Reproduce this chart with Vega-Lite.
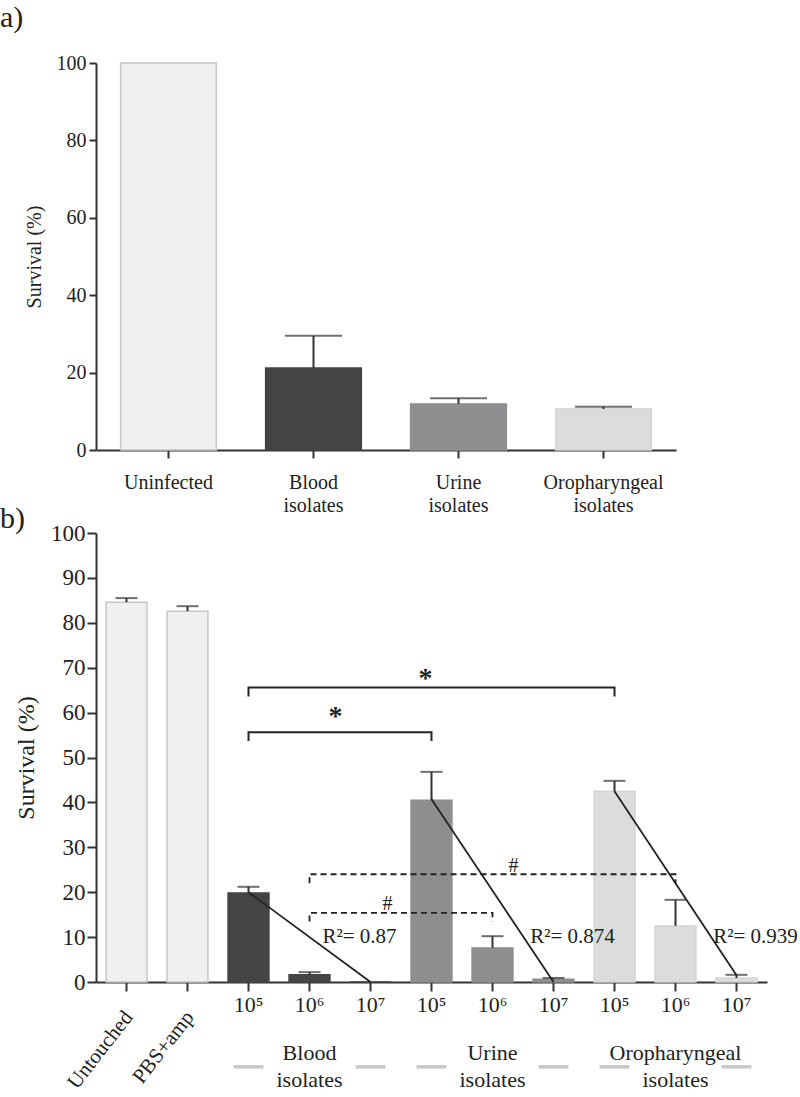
{
  "$schema": "https://vega.github.io/schema/vega-lite/v6.json",
  "background": "white",
  "padding": {"left": 0, "top": 3, "right": 0, "bottom": 0},
  "config": {
    "font": "Liberation Serif",
    "view": {"stroke": null},
    "axis": {"domainColor": "#333333", "domainWidth": 2, "tickColor": "#333333", "tickWidth": 2, "labelColor": "#222222", "titleColor": "#222222", "titleFontWeight": "normal", "grid": false, "labelFont": "Liberation Serif", "titleFont": "Liberation Serif"},
    "title": {"font": "Liberation Serif", "fontWeight": "normal", "color": "#222222"}
  },
  "bounds": "flush",
  "spacing": 83,
  "vconcat": [
    {
      "width": 580,
      "height": 387,
      "title": {"text": "a)", "anchor": "start", "frame": "group", "fontSize": 30, "dx": -96, "offset": 20},
      "data": {"values": [
        {"group": "Uninfected", "value": 100, "err": null},
        {"group": "Blood isolates", "value": 21.2, "err": 29.5},
        {"group": "Urine isolates", "value": 11.9, "err": 13.4},
        {"group": "Oropharyngeal isolates", "value": 10.6, "err": 11.2}
      ]},
      "encoding": {
        "x": {"field": "group", "type": "nominal", "sort": null,
          "scale": {"paddingInner": 0.34, "paddingOuter": 0.17},
          "axis": {"title": null, "labelAngle": 0, "labelFontSize": 20, "labelExpr": "split(datum.value, ' ')", "labelLineHeight": 23, "labelPadding": 14, "tickSize": 8}}
      },
      "layer": [
        {
          "mark": {"type": "bar", "strokeWidth": 1.5},
          "encoding": {
            "y": {"field": "value", "type": "quantitative", "scale": {"domain": [0, 100]},
              "axis": {"values": [0, 20, 40, 60, 80, 100], "title": "Survival (%)", "titleFontSize": 20, "labelFontSize": 20, "tickSize": 7, "labelPadding": 3, "titlePadding": 12}},
            "fill": {"field": "group", "type": "nominal", "scale": {"domain": ["Uninfected", "Blood isolates", "Urine isolates", "Oropharyngeal isolates"], "range": ["#f0f0f0", "#444446", "#8e8e90", "#dcdcdc"]}, "legend": null},
            "stroke": {"field": "group", "type": "nominal", "scale": {"domain": ["Uninfected", "Blood isolates", "Urine isolates", "Oropharyngeal isolates"], "range": ["#c6c6c6", "#444446", "#8e8e90", "#d4d4d4"]}, "legend": null}
          }
        },
        {
          "transform": [{"filter": "datum.err != null"}],
          "mark": {"type": "rule", "color": "#333333", "strokeWidth": 2},
          "encoding": {"y": {"field": "value", "type": "quantitative", "scale": {"domain": [0, 100]}}, "y2": {"field": "err"}}
        },
        {
          "transform": [{"filter": "datum.err != null"}],
          "mark": {"type": "tick", "color": "#333333", "thickness": 2, "size": 57},
          "encoding": {"y": {"field": "err", "type": "quantitative", "scale": {"domain": [0, 100]}}}
        }
      ]
    },
    {
      "width": 671,
      "height": 449,
      "title": {"text": "b)", "anchor": "start", "frame": "group", "fontSize": 30, "dx": -96, "offset": -12},
      "layer": [
        {
          "data": {"values": [
            {"cat": "Untouched", "kind": "ctrl", "value": 84.6, "err": 85.5},
            {"cat": "PBS+amp", "kind": "ctrl", "value": 82.6, "err": 83.7},
            {"cat": "Blood|10⁵", "kind": "Blood", "value": 19.8, "err": 21.2},
            {"cat": "Blood|10⁶", "kind": "Blood", "value": 1.6, "err": 2.2},
            {"cat": "Blood|10⁷", "kind": "Blood", "value": 0, "err": null},
            {"cat": "Urine|10⁵", "kind": "Urine", "value": 40.5, "err": 46.8},
            {"cat": "Urine|10⁶", "kind": "Urine", "value": 7.6, "err": 10.2},
            {"cat": "Urine|10⁷", "kind": "Urine", "value": 0.6, "err": 0.9},
            {"cat": "Oro|10⁵", "kind": "Oro", "value": 42.5, "err": 44.8},
            {"cat": "Oro|10⁶", "kind": "Oro", "value": 12.5, "err": 18.3},
            {"cat": "Oro|10⁷", "kind": "Oro", "value": 0.9, "err": 1.6}
          ]},
          "layer": [
            {
              "mark": {"type": "bar", "strokeWidth": 1.5},
              "encoding": {
                "x": {"field": "cat", "type": "nominal",
                  "scale": {"domain": ["Untouched", "PBS+amp", "Blood|10⁵", "Blood|10⁶", "Blood|10⁷", "Urine|10⁵", "Urine|10⁶", "Urine|10⁷", "Oro|10⁵", "Oro|10⁶", "Oro|10⁷"], "paddingInner": 0.33, "paddingOuter": 0.165},
                  "axis": {"title": null, "labelAngle": 0, "labelFontSize": 22, "labelExpr": "indexof(datum.value, '|') > 0 ? split(datum.value, '|')[1] : ''", "labelPadding": 3, "tickSize": 9}},
                "y": {"field": "value", "type": "quantitative", "scale": {"domain": [0, 100]},
                  "axis": {"values": [0, 10, 20, 30, 40, 50, 60, 70, 80, 90, 100], "title": "Survival (%)", "titleFontSize": 24, "labelFontSize": 23, "tickSize": 9, "labelPadding": 2, "titlePadding": 12}},
                "fill": {"field": "kind", "type": "nominal", "scale": {"domain": ["ctrl", "Blood", "Urine", "Oro"], "range": ["#f0f0f0", "#444446", "#8c8c8e", "#d9d9d9"]}, "legend": null},
                "stroke": {"field": "kind", "type": "nominal", "scale": {"domain": ["ctrl", "Blood", "Urine", "Oro"], "range": ["#c0c0c0", "#444446", "#8c8c8e", "#d9d9d9"]}, "legend": null}
              }
            },
            {
              "transform": [{"filter": "datum.err != null"}],
              "mark": {"type": "rule", "color": "#333333", "strokeWidth": 2},
              "encoding": {
                "x": {"field": "cat", "type": "nominal"},
                "y": {"field": "value", "type": "quantitative", "scale": {"domain": [0, 100]}},
                "y2": {"field": "err"}
              }
            },
            {
              "transform": [{"filter": "datum.err != null"}],
              "mark": {"type": "tick", "color": "#333333", "thickness": 2, "size": 22},
              "encoding": {
                "x": {"field": "cat", "type": "nominal"},
                "y": {"field": "err", "type": "quantitative", "scale": {"domain": [0, 100]}}
              }
            }
          ]
        },
        {
          "data": {"values": [
            {"cat": "Blood|10⁵", "y": 20.0, "g": "B"},
            {"cat": "Blood|10⁷", "y": 0, "g": "B"},
            {"cat": "Urine|10⁵", "y": 40.7, "g": "U"},
            {"cat": "Urine|10⁷", "y": 0, "g": "U"},
            {"cat": "Oro|10⁵", "y": 42.5, "g": "O"},
            {"cat": "Oro|10⁷", "y": 1.5, "g": "O"}
          ]},
          "mark": {"type": "line", "color": "#222222", "strokeWidth": 1.8},
          "encoding": {
            "x": {"field": "cat", "type": "nominal"},
            "y": {"field": "y", "type": "quantitative", "scale": {"domain": [0, 100]}},
            "detail": {"field": "g"}
          }
        },
        {
          "data": {"values": [
            {"b": "s1", "o": 1, "cat": "Blood|10⁵", "y": 63.6},
            {"b": "s1", "o": 2, "cat": "Blood|10⁵", "y": 65.6},
            {"b": "s1", "o": 3, "cat": "Oro|10⁵", "y": 65.6},
            {"b": "s1", "o": 4, "cat": "Oro|10⁵", "y": 63.6},
            {"b": "s2", "o": 1, "cat": "Blood|10⁵", "y": 53.7},
            {"b": "s2", "o": 2, "cat": "Blood|10⁵", "y": 55.6},
            {"b": "s2", "o": 3, "cat": "Urine|10⁵", "y": 55.6},
            {"b": "s2", "o": 4, "cat": "Urine|10⁵", "y": 53.7}
          ]},
          "mark": {"type": "line", "color": "#222222", "strokeWidth": 2},
          "encoding": {
            "x": {"field": "cat", "type": "nominal"},
            "y": {"field": "y", "type": "quantitative", "scale": {"domain": [0, 100]}},
            "detail": {"field": "b"},
            "order": {"field": "o"}
          }
        },
        {
          "data": {"values": [
            {"b": "d1", "o": 1, "cat": "Blood|10⁶", "y": 22.0},
            {"b": "d1", "o": 2, "cat": "Blood|10⁶", "y": 24.0},
            {"b": "d1", "o": 3, "cat": "Oro|10⁶", "y": 24.0},
            {"b": "d1", "o": 4, "cat": "Oro|10⁶", "y": 22.0},
            {"b": "d2", "o": 1, "cat": "Blood|10⁶", "y": 13.5},
            {"b": "d2", "o": 2, "cat": "Blood|10⁶", "y": 15.4},
            {"b": "d2", "o": 3, "cat": "Urine|10⁶", "y": 15.4},
            {"b": "d2", "o": 4, "cat": "Urine|10⁶", "y": 13.5}
          ]},
          "mark": {"type": "line", "color": "#222222", "strokeWidth": 1.8, "strokeDash": [6, 4]},
          "encoding": {
            "x": {"field": "cat", "type": "nominal"},
            "y": {"field": "y", "type": "quantitative", "scale": {"domain": [0, 100]}},
            "detail": {"field": "b"},
            "order": {"field": "o"}
          }
        },
        {
          "data": {"values": [{"cat": "Urine|10⁵", "y": 67.5, "label": "*"}]},
          "mark": {"type": "text", "fontSize": 28, "fontWeight": "bold", "color": "#222222", "dx": -6, "baseline": "middle"},
          "encoding": {"x": {"field": "cat", "type": "nominal"}, "y": {"field": "y", "type": "quantitative", "scale": {"domain": [0, 100]}}, "text": {"field": "label"}}
        },
        {
          "data": {"values": [{"cat": "Blood|10⁶", "y": 59.0, "label": "*"}]},
          "mark": {"type": "text", "fontSize": 28, "fontWeight": "bold", "color": "#222222", "dx": 26, "baseline": "middle"},
          "encoding": {"x": {"field": "cat", "type": "nominal"}, "y": {"field": "y", "type": "quantitative", "scale": {"domain": [0, 100]}}, "text": {"field": "label"}}
        },
        {
          "data": {"values": [{"cat": "Urine|10⁶", "y": 25.9, "label": "#"}]},
          "mark": {"type": "text", "fontSize": 20, "color": "#222222", "dx": 21, "baseline": "middle"},
          "encoding": {"x": {"field": "cat", "type": "nominal"}, "y": {"field": "y", "type": "quantitative", "scale": {"domain": [0, 100]}}, "text": {"field": "label"}}
        },
        {
          "data": {"values": [{"cat": "Blood|10⁷", "y": 17.3, "label": "#"}]},
          "mark": {"type": "text", "fontSize": 20, "color": "#222222", "dx": 17, "baseline": "middle"},
          "encoding": {"x": {"field": "cat", "type": "nominal"}, "y": {"field": "y", "type": "quantitative", "scale": {"domain": [0, 100]}}, "text": {"field": "label"}}
        },
        {
          "data": {"values": [{"cat": "Blood|10⁷", "y": 10.0, "label": "R²= 0.87"}]},
          "mark": {"type": "text", "fontSize": 21, "color": "#222222", "dx": -11, "baseline": "middle"},
          "encoding": {"x": {"field": "cat", "type": "nominal"}, "y": {"field": "y", "type": "quantitative", "scale": {"domain": [0, 100]}}, "text": {"field": "label"}}
        },
        {
          "data": {"values": [
            {"cat": "Urine|10⁷", "y": 10.0, "label": "R²= 0.874"},
            {"cat": "Oro|10⁷", "y": 10.0, "label": "R²= 0.939"}
          ]},
          "mark": {"type": "text", "fontSize": 21, "color": "#222222", "dx": 19, "baseline": "middle"},
          "encoding": {"x": {"field": "cat", "type": "nominal"}, "y": {"field": "y", "type": "quantitative", "scale": {"domain": [0, 100]}}, "text": {"field": "label"}}
        },
        {
          "data": {"values": [{"cat": "Untouched", "label": "Untouched"}, {"cat": "PBS+amp", "label": "PBS+amp"}]},
          "mark": {"type": "text", "fontSize": 21, "color": "#222222", "angle": -52, "align": "right", "baseline": "middle", "dx": 4},
          "encoding": {"x": {"field": "cat", "type": "nominal"}, "y": {"datum": -7.8, "type": "quantitative", "scale": {"domain": [0, 100]}}, "text": {"field": "label"}}
        },
        {
          "data": {"values": [
            {"cat": "Blood|10⁶", "label": "Blood\nisolates"},
            {"cat": "Urine|10⁶", "label": "Urine\nisolates"},
            {"cat": "Oro|10⁶", "label": "Oropharyngeal\nisolates"}
          ]},
          "mark": {"type": "text", "fontSize": 22, "color": "#222222", "lineBreak": "\n", "lineHeight": 27, "baseline": "middle", "align": "center"},
          "encoding": {"x": {"field": "cat", "type": "nominal"}, "y": {"datum": -15.9, "type": "quantitative", "scale": {"domain": [0, 100]}}, "text": {"field": "label"}}
        },
        {
          "data": {"values": [
            {"cat": "Blood|10⁵"}, {"cat": "Blood|10⁷"},
            {"cat": "Urine|10⁵"}, {"cat": "Urine|10⁷"},
            {"cat": "Oro|10⁵"}, {"cat": "Oro|10⁷"}
          ]},
          "mark": {"type": "tick", "color": "#b0b0b0", "thickness": 3.5, "size": 30},
          "encoding": {"x": {"field": "cat", "type": "nominal"}, "y": {"datum": -18.9, "type": "quantitative", "scale": {"domain": [0, 100]}}}
        }
      ]
    }
  ]
}
